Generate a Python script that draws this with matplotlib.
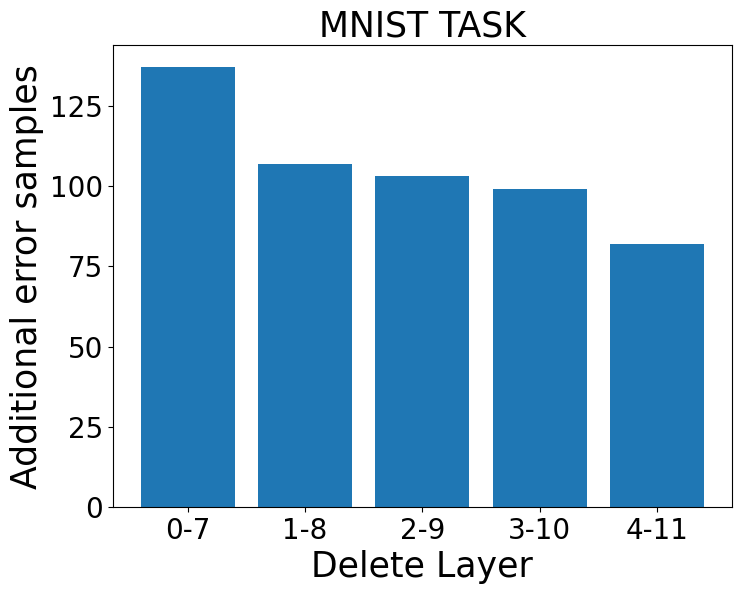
import matplotlib
matplotlib.use("Agg")
import matplotlib.pyplot as plt

categories = ["0-7", "1-8", "2-9", "3-10", "4-11"]
values = [137, 107, 103, 99, 82]

fig = plt.figure(figsize=(7.42, 5.94), dpi=100)
ax = fig.add_axes([112.5/742, 1-507/594, (732.3-112.5)/742, (507-45.3)/594])
ax.bar(categories, values, color="#1f77b4")
ax.set_title("MNIST TASK", fontsize=25)
ax.set_xlabel("Delete Layer", fontsize=25)
ax.set_ylabel("Additional error samples", fontsize=25)
ax.tick_params(labelsize=20)
ax.set_yticks([0, 25, 50, 75, 100, 125])
fig.savefig("out.png", dpi=100)
